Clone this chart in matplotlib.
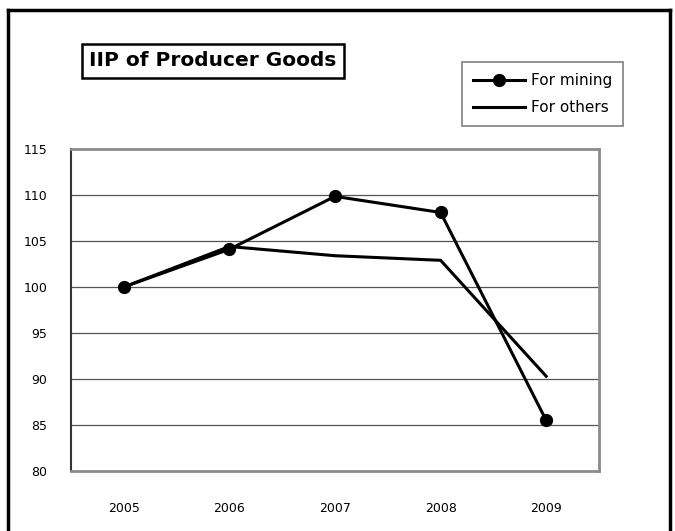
import matplotlib.pyplot as plt
from matplotlib.lines import Line2D

years = ['2005', '2006', '2007', '2008', '2009']
mining = [100, 104.1, 109.85, 108.1, 85.5]
others = [100, 104.4, 103.4, 102.9, 90.3]
yticks = [80, 85, 90, 95, 100, 105, 110, 115]

fig = plt.figure(figsize=(6.75, 5.31), dpi=100)
ax = fig.add_axes([71 / 675, 1 - 471 / 531, 528 / 675, 322 / 531])

x = list(range(len(years)))
ax.plot(x, mining, color='black', lw=2.2, marker='o', markersize=8.5, label='For mining', zorder=4)
ax.plot(x, others, color='black', lw=2.2, label='For others', zorder=3)

ax.set_xlim(-0.5, 4.5)
ax.set_ylim(80, 115)
ax.set_yticks(yticks)
ax.set_xticks(x)
ax.set_xticklabels(years)
ax.tick_params(axis='both', length=0, labelsize=9)
ax.tick_params(axis='y', pad=17)
ax.tick_params(axis='x', pad=22)
ax.grid(axis='y', color='#555555', lw=0.9)
ax.set_axisbelow(True)
for s in ['top', 'right', 'bottom']:
    ax.spines[s].set_color('#8c8c8c')
    ax.spines[s].set_linewidth(2)
ax.spines['left'].set_color('#333333')
ax.spines['left'].set_linewidth(1.5)

# 标题框
fig.text(213 / 675, 1 - 61 / 531, 'IIP of Producer Goods', fontsize=14.5, fontweight='bold',
         ha='center', va='center',
         bbox=dict(boxstyle='square,pad=0.38', fc='white', ec='black', lw=1.8))

# 图例
leg = fig.legend(loc='upper left', bbox_to_anchor=(462 / 675, 1 - 62 / 531), fontsize=11,
                 fancybox=False, edgecolor='#808080', framealpha=1, handlelength=3.4,
                 handletextpad=0.35, borderpad=0.75, labelspacing=0.75, borderaxespad=0)
leg.get_frame().set_linewidth(1.2)

# 外框
fig.add_artist(Line2D([8 / 675, 8 / 675], [0, 1 - 10 / 531], transform=fig.transFigure, color='black', lw=2.5))
fig.add_artist(Line2D([670 / 675, 670 / 675], [0, 1 - 10 / 531], transform=fig.transFigure, color='black', lw=2.5))
fig.add_artist(Line2D([8 / 675, 670 / 675], [1 - 10 / 531, 1 - 10 / 531], transform=fig.transFigure, color='black', lw=2.5))

plt.savefig('out.png', dpi=100)
